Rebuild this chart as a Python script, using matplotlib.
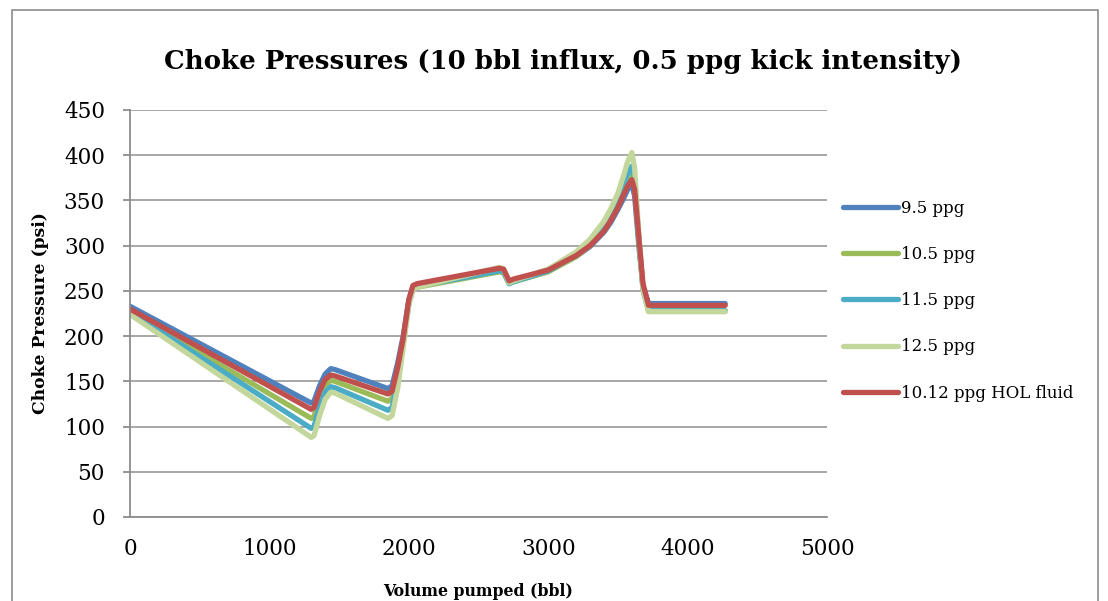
import matplotlib.pyplot as plt
from matplotlib.patches import Rectangle

# volume pumped (bbl), shared by every series
volume = [0, 1300, 1320, 1360, 1400, 1440, 1470, 1850, 1880, 1920, 1960, 2000,
          2030, 2060, 2650, 2680, 2720, 2750, 3000, 3200, 3300, 3400, 3450,
          3500, 3540, 3570, 3600, 3620, 3650, 3680, 3720, 3750, 4270]

# choke pressure (psi) for each mud weight
p_95 = [233, 126, 128, 145, 158, 164, 163, 142, 145, 170, 200, 240,
        255, 257, 273, 272, 260, 262, 272, 288, 299, 315, 326,
        340, 352, 362, 368, 355, 300, 255, 236, 236, 236]
p_105 = [227, 109, 111, 132, 146, 151, 150, 128, 131, 158, 195, 238,
         252, 254, 271, 270, 258, 260, 271, 288, 300, 318, 330,
         346, 360, 372, 380, 366, 305, 252, 228, 228, 228]
p_115 = [227, 98, 100, 122, 138, 144, 143, 118, 121, 150, 192, 236,
         253, 255, 272, 271, 258, 260, 272, 290, 303, 322, 335,
         352, 368, 380, 388, 373, 308, 252, 228, 228, 228]
p_125 = [224, 88, 90, 112, 130, 138, 137, 109, 112, 142, 188, 234,
         252, 254, 276, 274, 259, 261, 274, 293, 307, 327, 341,
         358, 377, 393, 403, 386, 312, 252, 227, 227, 227]
p_hol = [230, 119, 121, 139, 152, 157, 156, 136, 139, 165, 198, 240,
         256, 258, 275, 274, 261, 263, 273, 289, 300, 316, 328,
         342, 356, 366, 373, 362, 310, 258, 234, 234, 234]

labels = ["9.5 ppg", "10.5 ppg", "11.5 ppg", "12.5 ppg", "10.12 ppg HOL fluid"]
colors = ["#4F81BD", "#9BBB59", "#4BACC6", "#C3D69B", "#C0504D"]
series = [p_95, p_105, p_115, p_125, p_hol]

fig = plt.figure(figsize=(11.08, 6.01), dpi=100)
ax = fig.add_axes([0.1173, 0.1398, 0.6291, 0.6772])

# chart area border
fig.patches.append(Rectangle((12 / 1108, -0.1), 1086 / 1108, 1.1 - 10 / 601,
                             transform=fig.transFigure, fill=False,
                             edgecolor="#8c8c8c", linewidth=1.2, zorder=0))

for y, lab, c in zip(series, labels, colors):
    ax.plot(volume, y, color=c, linewidth=3.8, label=lab,
            solid_joinstyle="round", solid_capstyle="round")

ax.set_xlim(0, 5000)
ax.set_ylim(0, 450)
ax.set_xticks(range(0, 5001, 1000))
ax.set_yticks(range(0, 451, 50))
ax.grid(axis="y", color="#a0a0a0", linewidth=1.3)
ax.set_axisbelow(True)
for s in ["top", "right"]:
    ax.spines[s].set_visible(False)
for s in ["left", "bottom"]:
    ax.spines[s].set_color("#8c8c8c")
    ax.spines[s].set_linewidth(1.3)
ax.tick_params(axis="y", length=5, color="#8c8c8c", width=1.3, pad=13)
ax.tick_params(axis="x", length=0, pad=15)
for t in ax.get_xticklabels() + ax.get_yticklabels():
    t.set_fontfamily("DejaVu Serif")
    t.set_fontsize(15.5)

ax.set_xlabel("Volume pumped (bbl)", fontfamily="DejaVu Serif",
              fontweight="bold", fontsize=11.3, labelpad=17)
ax.set_ylabel("Choke Pressure (psi)", fontfamily="DejaVu Serif",
              fontweight="bold", fontsize=12.3, labelpad=11)

fig.text(0.508, 0.897, "Choke Pressures (10 bbl influx, 0.5 ppg kick intensity)",
         ha="center", va="center", fontfamily="DejaVu Serif",
         fontweight="bold", fontsize=18.7)

handles = ax.get_lines()
leg = fig.legend(handles, labels, loc="upper left",
                 bbox_to_anchor=(828 / 1108, 1 - 185 / 601),
                 frameon=False, handlelength=3.3, handletextpad=0.2,
                 labelspacing=1.75, prop={"family": "DejaVu Serif", "size": 12})

fig.savefig("out.png", dpi=100)
